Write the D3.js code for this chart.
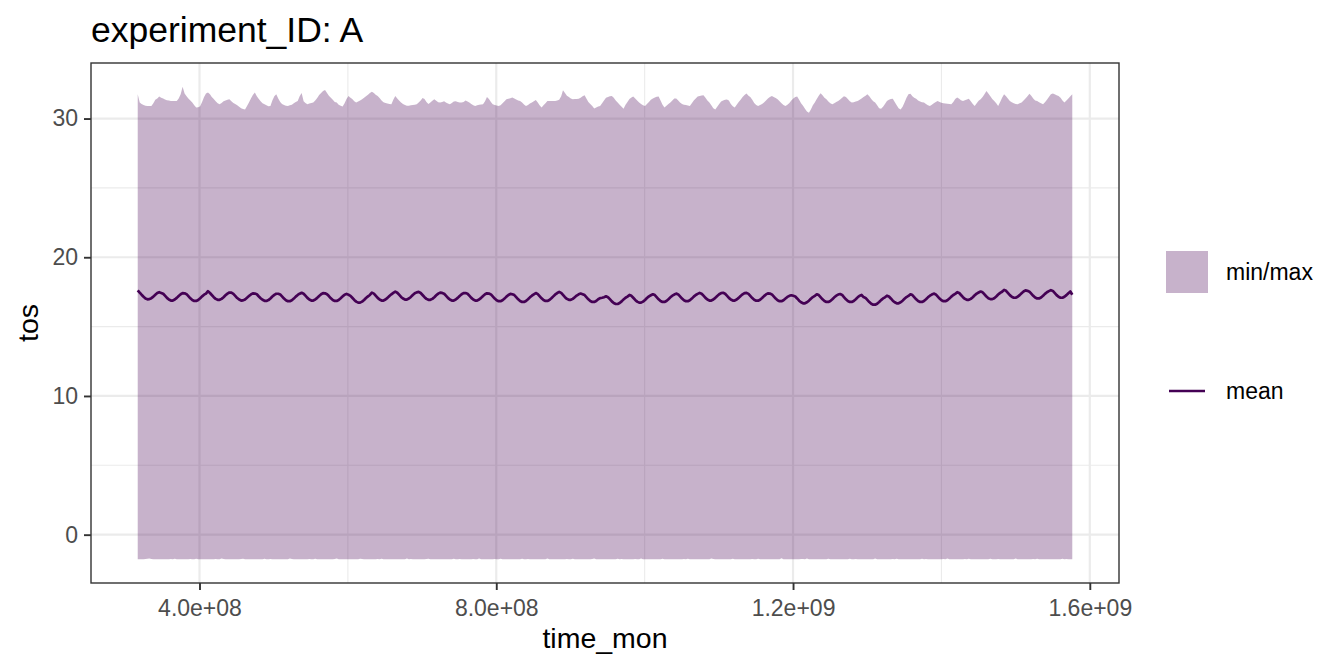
<!DOCTYPE html>
<html>
<head>
<meta charset="utf-8">
<script src="https://cdn.jsdelivr.net/npm/d3@7"></script>
<style>
  body { margin: 0; background: #fff; }
  svg { display: block; }
  text { font-family: "Liberation Sans", Arial, Helvetica, sans-serif; }
</style>
</head>
<body>
<div id="chart"></div>
<script>
// monthly series, Jan 1980 .. Dec 2019 (one row per year)
const startYear = 1980;

const meanTos = [
  17.62, 17.45, 17.30, 17.15, 17.03, 16.97, 16.98, 17.05, 17.16, 17.30, 17.42, 17.48,
  17.43, 17.37, 17.23, 17.07, 16.95, 16.88, 16.88, 16.95, 17.07, 17.21, 17.33, 17.41,
  17.40, 17.34, 17.20, 17.04, 16.92, 16.85, 16.85, 16.92, 17.04, 17.18, 17.30, 17.38,
  17.55, 17.42, 17.28, 17.12, 17.00, 16.93, 16.93, 17.00, 17.12, 17.26, 17.38, 17.46,
  17.45, 17.36, 17.22, 17.06, 16.95, 16.88, 16.89, 16.96, 17.08, 17.20, 17.32, 17.40,
  17.38, 17.33, 17.19, 17.05, 16.93, 16.86, 16.85, 16.91, 17.03, 17.17, 17.29, 17.37,
  17.37, 17.31, 17.18, 17.02, 16.90, 16.83, 16.83, 16.90, 17.02, 17.16, 17.28, 17.37,
  17.44, 17.37, 17.23, 17.07, 16.95, 16.88, 16.88, 16.95, 17.07, 17.21, 17.33, 17.41,
  17.40, 17.33, 17.20, 17.04, 16.92, 16.85, 16.85, 16.92, 17.04, 17.18, 17.30, 17.36,
  17.30, 17.22, 17.08, 16.92, 16.80, 16.73, 16.73, 16.80, 16.92, 17.06, 17.18, 17.28,
  17.45, 17.38, 17.23, 17.07, 16.95, 16.88, 16.88, 16.95, 17.07, 17.21, 17.33, 17.43,
  17.52, 17.44, 17.30, 17.14, 17.02, 16.95, 16.95, 17.02, 17.14, 17.28, 17.40, 17.47,
  17.50, 17.42, 17.28, 17.12, 17.00, 16.93, 16.93, 17.00, 17.12, 17.26, 17.38, 17.45,
  17.43, 17.37, 17.23, 17.07, 16.95, 16.88, 16.88, 16.95, 17.07, 17.21, 17.33, 17.41,
  17.42, 17.37, 17.23, 17.07, 16.95, 16.88, 16.88, 16.95, 17.07, 17.21, 17.33, 17.40,
  17.38, 17.32, 17.18, 17.02, 16.90, 16.83, 16.83, 16.90, 17.02, 17.16, 17.28, 17.36,
  17.33, 17.27, 17.13, 16.97, 16.85, 16.78, 16.78, 16.85, 16.97, 17.11, 17.23, 17.33,
  17.42, 17.34, 17.20, 17.04, 16.92, 16.85, 16.85, 16.92, 17.04, 17.18, 17.32, 17.42,
  17.50, 17.43, 17.28, 17.12, 17.00, 16.93, 16.93, 17.00, 17.12, 17.24, 17.33, 17.38,
  17.33, 17.27, 17.13, 16.97, 16.85, 16.78, 16.78, 16.85, 16.97, 17.05, 17.08, 17.12,
  17.18, 17.12, 16.98, 16.82, 16.70, 16.63, 16.63, 16.70, 16.82, 16.96, 17.08, 17.16,
  17.28, 17.22, 17.08, 16.92, 16.80, 16.73, 16.73, 16.80, 16.92, 17.06, 17.18, 17.26,
  17.33, 17.27, 17.13, 16.97, 16.85, 16.78, 16.78, 16.85, 16.97, 17.11, 17.23, 17.31,
  17.38, 17.32, 17.18, 17.02, 16.90, 16.83, 16.83, 16.90, 17.02, 17.16, 17.28, 17.36,
  17.43, 17.37, 17.23, 17.07, 16.95, 16.88, 16.88, 16.95, 17.07, 17.21, 17.33, 17.41,
  17.44, 17.37, 17.23, 17.07, 16.95, 16.88, 16.88, 16.95, 17.07, 17.21, 17.33, 17.42,
  17.43, 17.36, 17.22, 17.06, 16.94, 16.87, 16.87, 16.94, 17.06, 17.20, 17.32, 17.40,
  17.38, 17.32, 17.18, 17.02, 16.90, 16.83, 16.83, 16.90, 17.02, 17.14, 17.22, 17.26,
  17.22, 17.17, 17.03, 16.87, 16.75, 16.68, 16.68, 16.75, 16.87, 17.01, 17.13, 17.21,
  17.33, 17.27, 17.13, 16.97, 16.85, 16.78, 16.78, 16.85, 16.97, 17.11, 17.23, 17.31,
  17.35, 17.28, 17.13, 16.97, 16.85, 16.78, 16.78, 16.85, 16.97, 17.11, 17.23, 17.28,
  17.13, 17.07, 16.93, 16.77, 16.65, 16.58, 16.58, 16.65, 16.77, 16.91, 17.03, 17.11,
  17.23, 17.17, 17.03, 16.87, 16.75, 16.68, 16.68, 16.75, 16.87, 17.01, 17.13, 17.21,
  17.33, 17.27, 17.13, 16.97, 16.85, 16.78, 16.78, 16.85, 16.97, 17.11, 17.23, 17.31,
  17.38, 17.32, 17.18, 17.02, 16.90, 16.83, 16.83, 16.90, 17.02, 17.16, 17.28, 17.36,
  17.48, 17.42, 17.28, 17.12, 17.00, 16.93, 16.93, 17.00, 17.12, 17.26, 17.38, 17.46,
  17.53, 17.47, 17.33, 17.17, 17.05, 16.98, 16.98, 17.05, 17.17, 17.31, 17.43, 17.51,
  17.65, 17.58, 17.43, 17.27, 17.15, 17.08, 17.08, 17.15, 17.27, 17.41, 17.53, 17.61,
  17.58, 17.52, 17.38, 17.22, 17.10, 17.03, 17.03, 17.10, 17.22, 17.36, 17.48, 17.56,
  17.63, 17.57, 17.43, 17.27, 17.15, 17.08, 17.08, 17.15, 17.27, 17.41, 17.53, 17.30
];

const maxTos = [
  31.75, 31.15, 31.05, 30.98, 30.92, 30.91, 30.91, 30.91, 31.10, 31.35, 31.45, 31.58,
  31.50, 31.45, 31.37, 31.32, 31.30, 31.27, 31.26, 31.26, 31.26, 31.45, 31.75, 32.30,
  31.80, 31.60, 31.45, 31.30, 31.15, 30.95, 30.79, 30.82, 30.88, 31.20, 31.55, 31.80,
  31.87, 31.75, 31.55, 31.40, 31.25, 31.10, 31.03, 31.12, 31.24, 31.30, 31.35, 31.39,
  31.25, 31.12, 31.05, 30.95, 30.85, 30.75, 30.68, 30.66, 30.90, 31.15, 31.45, 31.70,
  31.87, 31.60, 31.42, 31.25, 31.10, 31.03, 30.95, 30.88, 30.90, 31.30, 31.60, 31.75,
  31.45, 31.20, 31.05, 30.98, 30.93, 30.91, 30.95, 31.00, 31.10, 31.20, 31.26, 31.60,
  31.85, 31.25, 31.12, 31.03, 31.08, 31.12, 31.15, 31.30, 31.48, 31.70, 31.85, 31.98,
  32.06, 31.85, 31.65, 31.50, 31.35, 31.20, 31.15, 31.00, 30.92, 30.86, 31.10, 31.40,
  31.63, 31.50, 31.40, 31.25, 31.15, 31.22, 31.30, 31.39, 31.50, 31.60, 31.72, 31.85,
  31.94, 31.85, 31.72, 31.63, 31.48, 31.30, 31.17, 31.12, 31.08, 31.05, 31.03, 31.35,
  31.63, 31.45, 31.30, 31.15, 31.05, 30.98, 30.92, 30.92, 30.95, 30.98, 31.00, 31.03,
  31.15, 31.30, 31.48, 31.40, 31.20, 31.05, 31.15, 31.28, 31.39, 31.28, 31.18, 31.15,
  31.20, 31.25, 31.15, 31.08, 31.03, 31.12, 31.22, 31.25, 31.20, 31.15, 31.15, 31.20,
  31.30, 31.22, 31.15, 31.05, 30.95, 30.91, 30.95, 31.00, 31.02, 31.03, 31.25, 31.55,
  31.40, 31.20, 31.03, 30.98, 30.94, 30.91, 30.95, 31.10, 31.25, 31.39, 31.43, 31.47,
  31.51, 31.45, 31.38, 31.30, 31.26, 31.15, 31.02, 30.91, 30.98, 31.08, 31.15, 31.25,
  31.34, 31.15, 30.95, 30.79, 30.95, 31.10, 31.26, 31.26, 31.26, 31.26, 31.26, 31.30,
  31.36, 31.60, 32.04, 31.85, 31.65, 31.55, 31.45, 31.39, 31.40, 31.41, 31.42, 31.50,
  31.60, 31.68, 31.45, 31.20, 31.05, 30.90, 30.72, 30.80, 30.86, 30.90, 31.10, 31.30,
  31.50, 31.55, 31.60, 31.62, 31.50, 31.30, 31.15, 31.00, 30.85, 30.71, 31.00, 31.20,
  31.40, 31.52, 31.58, 31.45, 31.30, 31.15, 31.05, 30.95, 30.91, 31.05, 31.20, 31.35,
  31.45, 31.52, 31.57, 31.58, 31.30, 31.00, 30.80, 30.92, 31.05, 31.15, 31.30, 31.45,
  31.45, 31.30, 31.15, 31.05, 31.00, 30.97, 30.94, 30.91, 31.10, 31.30, 31.45, 31.58,
  31.63, 31.66, 31.68, 31.50, 31.30, 31.15, 30.95, 30.75, 30.66, 30.85, 31.05, 31.22,
  31.30, 31.35, 31.38, 31.30, 31.05, 30.88, 30.79, 31.00, 31.20, 31.35, 31.55, 31.70,
  31.80, 31.65, 31.55, 31.35, 31.12, 30.98, 30.91, 30.98, 31.05, 31.15, 31.30, 31.45,
  31.55, 31.63, 31.55, 31.48, 31.39, 31.25, 31.10, 30.98, 30.91, 31.00, 31.12, 31.30,
  31.45, 31.55, 31.58, 31.35, 31.10, 30.93, 30.70, 30.50, 30.42, 30.65, 30.95, 31.15,
  31.40, 31.65, 31.82, 31.68, 31.50, 31.39, 31.22, 31.10, 31.03, 31.10, 31.20, 31.26,
  31.38, 31.50, 31.60, 31.55, 31.40, 31.25, 31.15, 31.18, 31.22, 31.26, 31.35, 31.45,
  31.55, 31.65, 31.75, 31.60, 31.40, 31.25, 31.15, 30.95, 30.75, 30.70, 30.85, 31.05,
  31.26, 31.35, 31.40, 31.43, 31.20, 30.95, 30.75, 30.66, 30.85, 31.15, 31.50, 31.75,
  31.78, 31.60, 31.50, 31.43, 31.30, 31.22, 31.18, 31.15, 31.05, 30.95, 30.91, 31.00,
  31.10, 31.20, 31.26, 31.20, 31.14, 31.10, 31.08, 31.06, 31.04, 31.03, 31.20, 31.40,
  31.51, 31.42, 31.32, 31.26, 31.32, 31.38, 31.43, 31.25, 31.05, 30.91, 31.10, 31.28,
  31.39, 31.55, 31.75, 31.99, 31.80, 31.60, 31.40, 31.26, 31.10, 30.91, 31.20, 31.50,
  31.75, 31.60, 31.45, 31.26, 31.18, 31.10, 31.05, 31.03, 31.10, 31.15, 31.30, 31.45,
  31.60, 31.78, 31.65, 31.45, 31.30, 31.26, 31.18, 31.10, 31.03, 31.18, 31.35, 31.55,
  31.75, 31.80, 31.75, 31.68, 31.63, 31.50, 31.30, 31.15, 31.30, 31.45, 31.60, 31.75
];

const minTos = [
  -1.77, -1.77, -1.78, -1.77, -1.76, -1.74, -1.72, -1.75, -1.77, -1.77, -1.78, -1.77,
  -1.77, -1.78, -1.77, -1.77, -1.77, -1.75, -1.77, -1.73, -1.77, -1.77, -1.77, -1.78,
  -1.77, -1.77, -1.77, -1.76, -1.77, -1.77, -1.74, -1.77, -1.77, -1.78, -1.77, -1.77,
  -1.78, -1.77, -1.77, -1.77, -1.75, -1.77, -1.77, -1.72, -1.76, -1.77, -1.77, -1.77,
  -1.77, -1.77, -1.78, -1.77, -1.77, -1.76, -1.73, -1.77, -1.77, -1.77, -1.78, -1.77,
  -1.77, -1.78, -1.77, -1.77, -1.77, -1.74, -1.77, -1.77, -1.75, -1.77, -1.77, -1.77,
  -1.77, -1.77, -1.77, -1.78, -1.77, -1.77, -1.72, -1.76, -1.77, -1.77, -1.77, -1.78,
  -1.78, -1.77, -1.77, -1.77, -1.76, -1.77, -1.77, -1.74, -1.77, -1.77, -1.77, -1.77,
  -1.77, -1.77, -1.78, -1.77, -1.77, -1.75, -1.72, -1.77, -1.77, -1.78, -1.77, -1.77,
  -1.77, -1.78, -1.77, -1.77, -1.77, -1.77, -1.74, -1.76, -1.77, -1.77, -1.77, -1.77,
  -1.77, -1.77, -1.77, -1.76, -1.77, -1.73, -1.77, -1.77, -1.77, -1.77, -1.78, -1.77,
  -1.78, -1.77, -1.77, -1.77, -1.77, -1.77, -1.72, -1.77, -1.76, -1.77, -1.77, -1.77,
  -1.77, -1.77, -1.78, -1.77, -1.76, -1.74, -1.77, -1.77, -1.77, -1.77, -1.77, -1.78,
  -1.77, -1.78, -1.77, -1.77, -1.77, -1.77, -1.73, -1.77, -1.77, -1.76, -1.77, -1.77,
  -1.77, -1.77, -1.77, -1.77, -1.75, -1.77, -1.77, -1.72, -1.77, -1.77, -1.77, -1.77,
  -1.78, -1.77, -1.77, -1.76, -1.77, -1.77, -1.74, -1.77, -1.77, -1.78, -1.77, -1.77,
  -1.77, -1.77, -1.77, -1.77, -1.77, -1.73, -1.77, -1.77, -1.75, -1.77, -1.77, -1.77,
  -1.77, -1.78, -1.77, -1.77, -1.77, -1.77, -1.71, -1.77, -1.77, -1.77, -1.77, -1.78,
  -1.77, -1.77, -1.77, -1.77, -1.76, -1.77, -1.77, -1.74, -1.77, -1.77, -1.77, -1.77,
  -1.77, -1.77, -1.78, -1.77, -1.77, -1.75, -1.72, -1.77, -1.77, -1.77, -1.78, -1.77,
  -1.78, -1.77, -1.77, -1.77, -1.77, -1.77, -1.74, -1.77, -1.76, -1.77, -1.77, -1.77,
  -1.77, -1.77, -1.77, -1.76, -1.77, -1.77, -1.72, -1.77, -1.77, -1.78, -1.77, -1.77,
  -1.77, -1.78, -1.77, -1.77, -1.77, -1.74, -1.77, -1.77, -1.77, -1.77, -1.77, -1.77,
  -1.77, -1.77, -1.77, -1.77, -1.75, -1.77, -1.73, -1.77, -1.77, -1.77, -1.78, -1.77,
  -1.77, -1.77, -1.78, -1.77, -1.77, -1.77, -1.72, -1.76, -1.77, -1.77, -1.77, -1.77,
  -1.78, -1.77, -1.77, -1.77, -1.77, -1.74, -1.77, -1.77, -1.77, -1.77, -1.77, -1.78,
  -1.77, -1.77, -1.77, -1.76, -1.77, -1.77, -1.73, -1.77, -1.77, -1.77, -1.77, -1.77,
  -1.77, -1.78, -1.77, -1.77, -1.77, -1.77, -1.70, -1.77, -1.77, -1.77, -1.77, -1.77,
  -1.77, -1.77, -1.77, -1.77, -1.76, -1.75, -1.77, -1.72, -1.77, -1.78, -1.77, -1.77,
  -1.77, -1.77, -1.78, -1.77, -1.77, -1.77, -1.74, -1.77, -1.77, -1.77, -1.77, -1.77,
  -1.78, -1.77, -1.77, -1.77, -1.77, -1.73, -1.77, -1.77, -1.76, -1.77, -1.77, -1.78,
  -1.77, -1.77, -1.77, -1.77, -1.77, -1.77, -1.72, -1.77, -1.77, -1.77, -1.77, -1.77,
  -1.77, -1.78, -1.77, -1.76, -1.77, -1.74, -1.77, -1.77, -1.77, -1.77, -1.78, -1.77,
  -1.77, -1.77, -1.77, -1.77, -1.77, -1.77, -1.73, -1.77, -1.75, -1.77, -1.77, -1.77,
  -1.77, -1.77, -1.78, -1.77, -1.77, -1.75, -1.77, -1.71, -1.77, -1.77, -1.77, -1.77,
  -1.78, -1.77, -1.77, -1.77, -1.76, -1.77, -1.74, -1.77, -1.77, -1.77, -1.77, -1.78,
  -1.77, -1.77, -1.77, -1.77, -1.77, -1.73, -1.77, -1.77, -1.77, -1.76, -1.77, -1.77,
  -1.77, -1.78, -1.77, -1.77, -1.77, -1.77, -1.72, -1.77, -1.77, -1.77, -1.77, -1.77,
  -1.77, -1.77, -1.77, -1.76, -1.77, -1.74, -1.77, -1.77, -1.77, -1.77, -1.78, -1.77,
  -1.77, -1.77, -1.78, -1.77, -1.77, -1.77, -1.73, -1.77, -1.76, -1.77, -1.77, -1.77
];

const xTickValues = [4e8, 8e8, 1.2e9, 1.6e9];
const xTickLabels = ["4.0e+08", "8.0e+08", "1.2e+09", "1.6e+09"];
const xMinorValues = [6e8, 1e9, 1.4e9];
const yTickValues = [0, 10, 20, 30];
const yMinorValues = [5, 15, 25];
const legendLabels = ["min/max", "mean"];

// time_mon = seconds since epoch, mid month
const timeMon = meanTos.map((d, i) => Date.UTC(startYear + Math.floor(i / 12), i % 12, 15) / 1000);

const width = 1344, height = 672;
const panel = { left: 91, top: 63, right: 1119, bottom: 583 };
const purple = "#440154";

const svg = d3.select("#chart")
    .append("svg")
    .attr("width", width)
    .attr("height", height);

// ggplot style 5% expansion
const tExt = d3.extent(timeMon);
const tPad = (tExt[1] - tExt[0]) * 0.05;
const x = d3.scaleLinear()
    .domain([tExt[0] - tPad, tExt[1] + tPad])
    .range([panel.left, panel.right]);

const yLo = d3.min(minTos), yHi = d3.max(maxTos);
const yPad = (yHi - yLo) * 0.05;
const y = d3.scaleLinear()
    .domain([yLo - yPad, yHi + yPad])
    .range([panel.bottom, panel.top]);

// grid
const grid = svg.append("g");
grid.selectAll("line.xminor").data(xMinorValues).join("line")
    .attr("x1", d => x(d)).attr("x2", d => x(d))
    .attr("y1", panel.top).attr("y2", panel.bottom)
    .attr("stroke", "#EBEBEB").attr("stroke-width", 1.1);
grid.selectAll("line.yminor").data(yMinorValues).join("line")
    .attr("y1", d => y(d)).attr("y2", d => y(d))
    .attr("x1", panel.left).attr("x2", panel.right)
    .attr("stroke", "#EBEBEB").attr("stroke-width", 1.1);
grid.selectAll("line.xmajor").data(xTickValues).join("line")
    .attr("x1", d => x(d)).attr("x2", d => x(d))
    .attr("y1", panel.top).attr("y2", panel.bottom)
    .attr("stroke", "#EBEBEB").attr("stroke-width", 2.2);
grid.selectAll("line.ymajor").data(yTickValues).join("line")
    .attr("y1", d => y(d)).attr("y2", d => y(d))
    .attr("x1", panel.left).attr("x2", panel.right)
    .attr("stroke", "#EBEBEB").attr("stroke-width", 2.2);

// min/max ribbon
const ribbon = d3.area()
    .x((d, i) => x(timeMon[i]))
    .y0((d, i) => y(minTos[i]))
    .y1((d, i) => y(maxTos[i]));

svg.append("path")
    .datum(maxTos)
    .attr("d", ribbon)
    .attr("fill", purple)
    .attr("fill-opacity", 0.3);

// mean line
const meanLine = d3.line()
    .x((d, i) => x(timeMon[i]))
    .y(d => y(d));

svg.append("path")
    .datum(meanTos)
    .attr("d", meanLine)
    .attr("fill", "none")
    .attr("stroke", purple)
    .attr("stroke-width", 2.7)
    .attr("stroke-linejoin", "round");

// panel border
svg.append("rect")
    .attr("x", panel.left).attr("y", panel.top)
    .attr("width", panel.right - panel.left)
    .attr("height", panel.bottom - panel.top)
    .attr("fill", "none")
    .attr("stroke", "#333333")
    .attr("stroke-width", 1.4);

// axes
const xAxis = d3.axisBottom(x)
    .tickValues(xTickValues)
    .tickFormat((d, i) => xTickLabels[i])
    .tickSize(7)
    .tickPadding(10);
const yAxis = d3.axisLeft(y)
    .tickValues(yTickValues)
    .tickSize(7)
    .tickPadding(6);

const gx = svg.append("g")
    .attr("transform", "translate(0," + panel.bottom + ")")
    .call(xAxis);
const gy = svg.append("g")
    .attr("transform", "translate(" + panel.left + ",0)")
    .call(yAxis);

[gx, gy].forEach(g => {
    g.select(".domain").remove();
    g.selectAll(".tick line").attr("stroke", "#333333").attr("stroke-width", 1.9);
    g.selectAll(".tick text")
        .attr("fill", "#4D4D4D")
        .style("font-size", "23px")
        .style("font-family", "'Liberation Sans', Arial, sans-serif");
});

// titles
svg.append("text")
    .attr("x", panel.left)
    .attr("y", 42)
    .style("font-size", "35.5px")
    .attr("fill", "#000")
    .text("experiment_ID: A");

svg.append("text")
    .attr("x", (panel.left + panel.right) / 2)
    .attr("y", 648)
    .attr("text-anchor", "middle")
    .style("font-size", "28.5px")
    .attr("fill", "#000")
    .text("time_mon");

svg.append("text")
    .attr("transform", "translate(38," + ((panel.top + panel.bottom) / 2) + ") rotate(-90)")
    .attr("text-anchor", "middle")
    .style("font-size", "28.5px")
    .attr("fill", "#000")
    .text("tos");

// legend
const legend = svg.append("g");
legend.append("rect")
    .attr("x", 1166).attr("y", 251)
    .attr("width", 42).attr("height", 42)
    .attr("fill", purple)
    .attr("fill-opacity", 0.3);
legend.append("line")
    .attr("x1", 1169).attr("x2", 1205)
    .attr("y1", 391).attr("y2", 391)
    .attr("stroke", purple)
    .attr("stroke-width", 2.7);
legend.selectAll("text.lab")
    .data(legendLabels)
    .join("text")
    .attr("x", 1226)
    .attr("y", (d, i) => i === 0 ? 272 : 391)
    .attr("dy", "0.35em")
    .style("font-size", "23px")
    .attr("fill", "#000")
    .text(d => d);
</script>
</body>
</html>
